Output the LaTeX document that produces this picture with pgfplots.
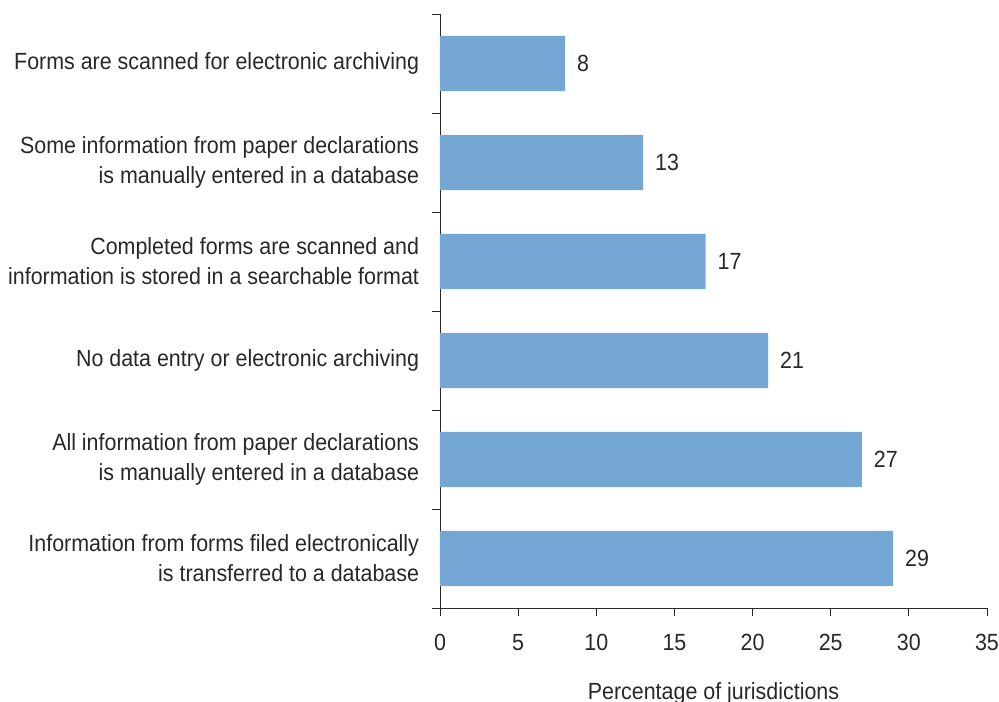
\documentclass[border=0pt]{standalone}
\usepackage{fontspec}
\setmainfont{Liberation Sans}[FakeStretch=0.915]
\usepackage{pgfplots}
\pgfplotsset{compat=1.18}
\definecolor{barblue}{RGB}{116,167,211}
\definecolor{txt}{RGB}{40,40,40}
\newcommand{\lblfont}{\fontsize{23.5}{30}\selectfont}
\begin{document}
\lblfont
\begin{tikzpicture}
\useasboundingbox (-440bp,-94bp) rectangle (559bp,608bp);
\begin{axis}[
  at={(0,0)}, anchor=south west,
  scale only axis,
  width=547bp, height=594bp,
  xbar, bar width=0.56,
  xmin=0, xmax=35, ymin=-0.5, ymax=5.5,
  xtick={0,5,...,35},
  ytick={0,1,2,3,4,5},
  yticklabels={{Information from forms filed electronically\\is transferred to a database},
               {All information from paper declarations\\is manually entered in a database},
               {No data entry or electronic archiving},
               {Completed forms are scanned and\\information is stored in a searchable format},
               {Some information from paper declarations\\is manually entered in a database},
               {Forms are scanned for electronic archiving}},
  minor ytick={-0.5,0.5,...,5.5},
  axis lines=left,
  axis line style={-, draw=txt, line width=0.9pt},
  tick style={draw=txt, line width=0.9pt},
  major y tick style={draw=none},
  minor tick length=8bp,
  major tick length=8bp,
  xtick align=outside, ytick align=outside,
  tick label style={font=\lblfont, text=txt},
  yticklabel style={align=right, xshift=-5bp},
  xticklabel style={yshift=-10bp},
  /pgf/number format/assume math mode=true,
  xlabel={Percentage of jurisdictions},
  xlabel style={font=\lblfont, text=txt, at={(axis description cs:0.5,0)}, anchor=base, yshift=-91bp},
  nodes near coords,
  every node near coord/.append style={font=\lblfont, text=txt, anchor=west, xshift=4bp},
  clip=false,
]
\addplot[fill=barblue, draw=none] coordinates {
 (29,0) (27,1) (21,2) (17,3) (13,4) (8,5)
};
\end{axis}
\end{tikzpicture}
\end{document}
